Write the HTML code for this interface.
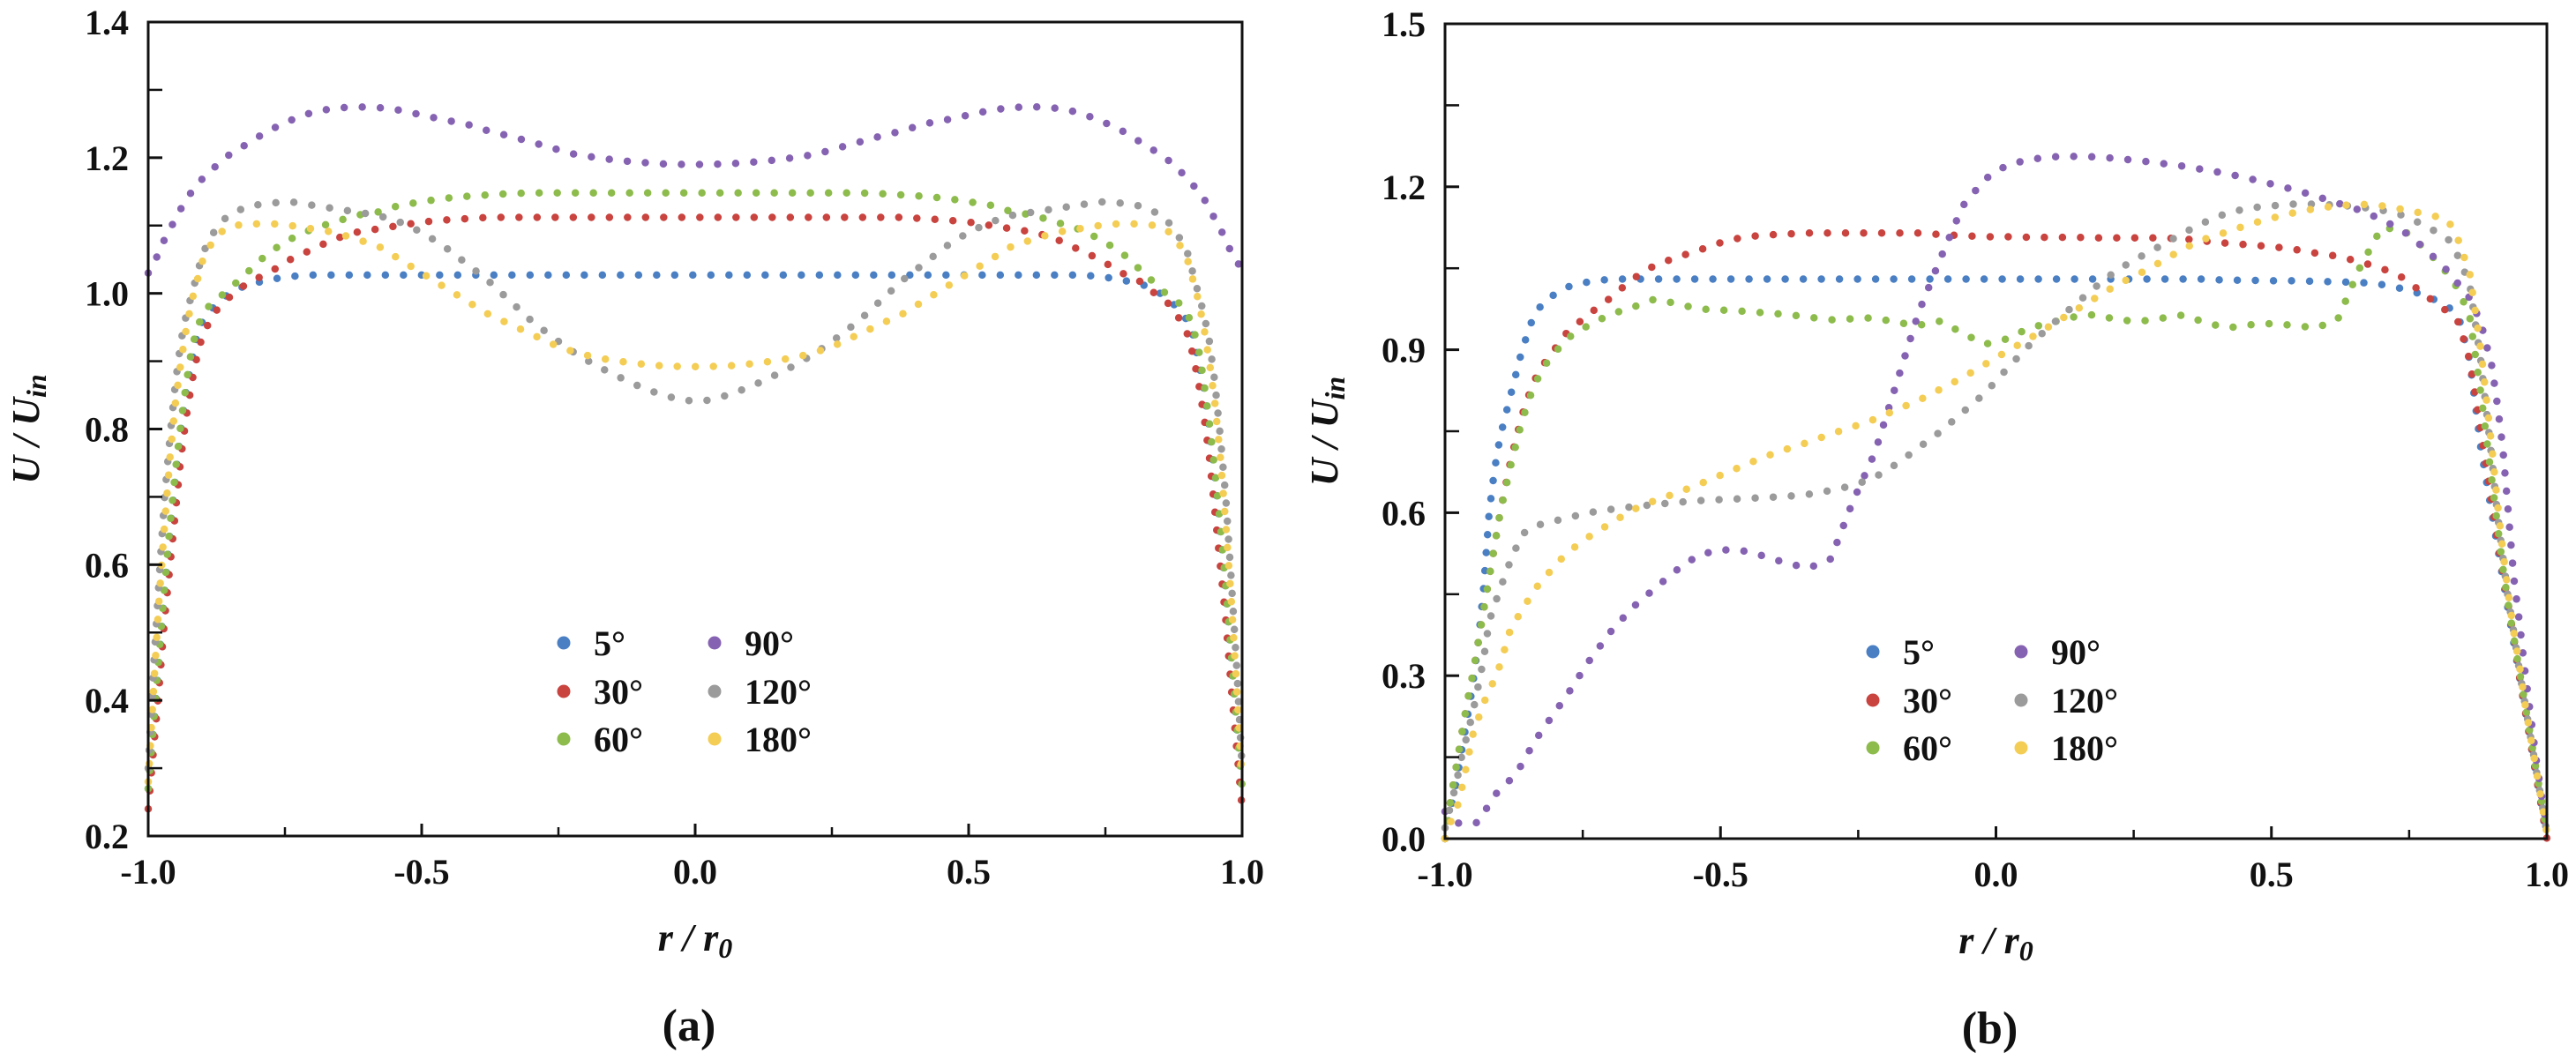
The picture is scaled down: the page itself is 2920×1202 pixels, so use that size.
<!DOCTYPE html>
<html><head><meta charset="utf-8"><style>
html,body{margin:0;padding:0;background:#fff;}
svg{display:block;}
text{font-family:"Liberation Serif","DejaVu Serif",serif;font-weight:bold;fill:#111;}
</style></head><body>
<svg id="fig" width="2920" height="1202" viewBox="0 0 2920 1202" xmlns="http://www.w3.org/2000/svg"></svg>
<script>
const seriesNames = ["5°","30°","60°","90°","120°","180°"];
const seriesColors = ["#4a7fc4","#c9433f","#8dbb4c","#8663b2","#9b9b9b","#f4cd55"];
const xGrid = [-1,-0.99,-0.98,-0.97,-0.96,-0.95,-0.94,-0.93,-0.92,-0.91,-0.9,-0.88,-0.86,-0.84,-0.82,-0.78,-0.74,-0.7,-0.66,-0.62,-0.58,-0.54,-0.5,-0.46,-0.42,-0.38,-0.34,-0.3,-0.26,-0.22,-0.18,-0.14,-0.1,-0.06,-0.02,0.02,0.06,0.1,0.14,0.18,0.22,0.26,0.3,0.34,0.38,0.42,0.46,0.5,0.54,0.58,0.62,0.66,0.7,0.74,0.78,0.82,0.84,0.86,0.88,0.9,0.91,0.92,0.93,0.94,0.95,0.96,0.97,0.98,0.99,1];

// Panel (a)
const a5 = [0.27,0.36,0.46,0.56,0.65,0.73,0.8,0.86,0.9,0.94,0.96,0.98,0.995,1.005,1.012,1.02,1.025,1.027,1.027,1.027,1.027,1.027,1.027,1.027,1.027,1.027,1.027,1.027,1.027,1.027,1.027,1.027,1.027,1.027,1.027,
 1.027,1.027,1.027,1.027,1.027,1.027,1.027,1.027,1.027,1.027,1.027,1.027,1.027,1.027,1.027,1.027,1.027,1.027,1.025,1.02,1.012,1.005,0.995,0.98,0.96,0.94,0.9,0.86,0.8,0.73,0.65,0.56,0.46,0.36,0.27];
const a30 = [0.24,0.33,0.42,0.52,0.6,0.68,0.76,0.82,0.87,0.91,0.94,0.97,0.99,1.0,1.015,1.03,1.05,1.065,1.08,1.09,1.095,1.1,1.105,1.108,1.11,1.112,1.112,1.112,1.112,1.112,1.112,1.112,1.112,1.112,1.112,
 1.112,1.112,1.112,1.112,1.112,1.112,1.112,1.112,1.112,1.112,1.11,1.108,1.105,1.1,1.095,1.09,1.08,1.065,1.05,1.03,1.015,1.0,0.99,0.97,0.94,0.91,0.87,0.82,0.76,0.68,0.6,0.52,0.42,0.33,0.24];
const a60 = [0.27,0.37,0.47,0.57,0.66,0.74,0.81,0.87,0.92,0.95,0.97,0.99,1.0,1.015,1.03,1.06,1.08,1.095,1.105,1.115,1.12,1.13,1.135,1.14,1.143,1.145,1.147,1.148,1.148,1.148,1.148,1.148,1.148,1.148,1.148,
 1.148,1.148,1.148,1.148,1.148,1.148,1.148,1.148,1.147,1.145,1.143,1.14,1.135,1.13,1.12,1.115,1.105,1.095,1.08,1.06,1.03,1.015,1.0,0.99,0.97,0.95,0.92,0.87,0.81,0.74,0.66,0.57,0.47,0.37,0.27];
const a90 = [1.03,1.045,1.06,1.08,1.095,1.11,1.125,1.14,1.15,1.16,1.17,1.185,1.2,1.21,1.22,1.24,1.255,1.267,1.273,1.275,1.274,1.27,1.263,1.256,1.25,1.24,1.232,1.223,1.214,1.205,1.2,1.196,1.193,1.191,1.19,
 1.19,1.191,1.193,1.196,1.2,1.205,1.214,1.223,1.232,1.24,1.25,1.256,1.263,1.27,1.274,1.275,1.273,1.267,1.255,1.24,1.22,1.21,1.2,1.185,1.17,1.16,1.15,1.14,1.125,1.11,1.095,1.08,1.06,1.045,1.04];
const a120 = [0.3,0.45,0.58,0.7,0.79,0.87,0.93,0.97,1.0,1.03,1.06,1.09,1.11,1.12,1.128,1.133,1.135,1.13,1.125,1.12,1.115,1.105,1.09,1.07,1.045,1.02,0.99,0.96,0.935,0.912,0.893,0.877,0.862,0.85,0.842,
 0.842,0.85,0.862,0.877,0.893,0.912,0.935,0.96,0.99,1.02,1.045,1.07,1.09,1.105,1.115,1.12,1.125,1.13,1.135,1.133,1.128,1.12,1.11,1.09,1.06,1.03,1.0,0.97,0.93,0.87,0.79,0.7,0.58,0.45,0.3];
const a180 = [0.28,0.42,0.55,0.66,0.76,0.84,0.9,0.95,0.99,1.02,1.05,1.08,1.095,1.1,1.102,1.103,1.1,1.095,1.09,1.08,1.07,1.05,1.03,1.01,0.99,0.97,0.955,0.94,0.925,0.913,0.905,0.9,0.896,0.893,0.892,
 0.892,0.893,0.896,0.9,0.905,0.913,0.925,0.94,0.955,0.97,0.99,1.01,1.03,1.05,1.07,1.08,1.09,1.095,1.1,1.103,1.102,1.1,1.095,1.08,1.05,1.02,0.99,0.95,0.9,0.84,0.76,0.66,0.55,0.42,0.28];

// Panel (b)
const b5 = [0,0.05,0.1,0.16,0.22,0.28,0.36,0.46,0.6,0.68,0.74,0.82,0.9,0.96,0.99,1.015,1.025,1.03,1.03,1.03,1.03,1.03,1.03,1.03,1.03,1.03,1.03,1.03,1.03,1.03,1.03,1.03,1.03,1.03,1.03,
 1.03,1.03,1.03,1.03,1.03,1.03,1.03,1.03,1.03,1.03,1.028,1.028,1.027,1.027,1.026,1.025,1.024,1.02,1.012,1.0,0.98,0.96,0.88,0.72,0.6,0.54,0.48,0.42,0.36,0.3,0.24,0.18,0.12,0.06,0];
const b30 = [0,0.07,0.13,0.19,0.25,0.3,0.36,0.42,0.48,0.54,0.6,0.7,0.78,0.84,0.875,0.93,0.965,0.995,1.03,1.055,1.07,1.083,1.097,1.107,1.111,1.113,1.115,1.115,1.115,1.115,1.115,1.115,1.112,1.11,1.108,
 1.108,1.107,1.107,1.107,1.106,1.106,1.106,1.106,1.104,1.1,1.096,1.093,1.09,1.085,1.078,1.072,1.062,1.05,1.032,1.0,0.97,0.95,0.88,0.75,0.62,0.55,0.49,0.43,0.37,0.3,0.24,0.18,0.12,0.06,0];
const b60 = [0,0.07,0.13,0.19,0.25,0.3,0.36,0.42,0.48,0.54,0.6,0.69,0.77,0.83,0.87,0.92,0.945,0.965,0.978,0.993,0.985,0.975,0.973,0.971,0.968,0.965,0.96,0.955,0.957,0.959,0.95,0.945,0.953,0.93,0.91,
 0.92,0.94,0.95,0.96,0.965,0.955,0.952,0.958,0.964,0.95,0.94,0.946,0.948,0.945,0.94,0.955,1.05,1.125,1.12,1.085,1.04,1.01,0.96,0.82,0.66,0.58,0.5,0.43,0.37,0.31,0.25,0.19,0.13,0.07,0.01];
const b90 = [0.05,0.04,0.03,0.027,0.027,0.028,0.03,0.045,0.065,0.08,0.09,0.11,0.137,0.175,0.205,0.262,0.325,0.38,0.425,0.46,0.494,0.522,0.532,0.53,0.52,0.507,0.498,0.515,0.62,0.71,0.84,0.97,1.07,1.165,1.214,
 1.24,1.25,1.255,1.256,1.255,1.252,1.248,1.243,1.238,1.231,1.224,1.215,1.205,1.195,1.183,1.17,1.157,1.14,1.118,1.085,1.045,1.02,0.995,0.95,0.87,0.8,0.72,0.6,0.48,0.4,0.31,0.23,0.15,0.08,0.02];
const b120 = [0.02,0.06,0.1,0.15,0.19,0.23,0.28,0.33,0.4,0.43,0.46,0.515,0.56,0.575,0.58,0.59,0.6,0.606,0.611,0.615,0.619,0.622,0.624,0.626,0.628,0.63,0.634,0.641,0.65,0.665,0.69,0.72,0.75,0.785,0.82,
 0.865,0.908,0.945,0.98,1.015,1.047,1.07,1.092,1.115,1.135,1.152,1.161,1.165,1.168,1.168,1.166,1.163,1.157,1.147,1.128,1.105,1.07,1.02,0.88,0.7,0.6,0.52,0.44,0.38,0.31,0.25,0.19,0.13,0.07,0.01];
const b180 = [0,0.03,0.05,0.09,0.14,0.19,0.22,0.25,0.27,0.295,0.32,0.39,0.42,0.455,0.48,0.525,0.555,0.58,0.605,0.622,0.636,0.652,0.669,0.686,0.703,0.717,0.73,0.745,0.758,0.772,0.79,0.807,0.828,0.849,0.873,
 0.897,0.92,0.945,0.97,0.995,1.02,1.04,1.062,1.086,1.104,1.117,1.131,1.142,1.152,1.16,1.165,1.168,1.165,1.158,1.15,1.14,1.1,1.04,0.9,0.72,0.62,0.53,0.45,0.38,0.32,0.25,0.19,0.13,0.07,0.01];

const xTicksMajor = [-1,-0.5,0,0.5,1];
const xTickLabels = ["-1.0","-0.5","0.0","0.5","1.0"];
const xTicksMinor = [-0.75,-0.25,0.25,0.75];
const aYTicks = [0.2,0.4,0.6,0.8,1.0,1.2,1.4];
const aYLabels = ["0.2","0.4","0.6","0.8","1.0","1.2","1.4"];
const aYMinor = [0.3,0.5,0.7,0.9,1.1,1.3];
const bYTicks = [0,0.3,0.6,0.9,1.2,1.5];
const bYLabels = ["0.0","0.3","0.6","0.9","1.2","1.5"];
const bYMinor = [0.15,0.45,0.75,1.05,1.35];

const NS = "http://www.w3.org/2000/svg";
const svg = document.getElementById("fig");
function mk(tag, attrs, parent){
  const e = document.createElementNS(NS, tag);
  for (const k in attrs) e.setAttribute(k, attrs[k]);
  (parent || svg).appendChild(e);
  return e;
}

function panel(p){
  const g = mk("g", {});
  
  
  const sx = v => p.x0 + (v - (-1)) / 2 * (p.x1 - p.x0);
  const sy = v => p.y1 - (v - p.ymin) / (p.ymax - p.ymin) * (p.y1 - p.y0);

  // data: dotted path through data points (evenly spaced dots along curve)
  p.series.forEach((vals, si) => {
    const d = vals.map((v, i) => (i ? "L" : "M") + sx(xGrid[i]).toFixed(1) + " " + sy(v).toFixed(1)).join(" ");
    const path = mk("path", {d: d, fill: "none", stroke: seriesColors[si], "stroke-width": 8.5, "stroke-linecap": "round", "stroke-linejoin": "round", "stroke-dasharray": "0 20.5"}, g);
    
    
  });

  // frame
  const fr = mk("rect", {x: p.x0, y: p.y0, width: p.x1 - p.x0, height: p.y1 - p.y0, fill: "none", stroke: "#111", "stroke-width": 3}, g);
  
  

  // x ticks
  xTicksMajor.forEach((v, i) => {
    const X = sx(v);
    const t = mk("line", {x1: X, x2: X, y1: p.y1, y2: p.y1 - 14, stroke: "#111", "stroke-width": 3}, g);
    
    
    const l = mk("text", {x: X, y: p.y1 + 54, "text-anchor": "middle", "font-size": 40}, g);
    l.textContent = xTickLabels[i];
    
    
  });
  xTicksMinor.forEach(v => {
    const X = sx(v);
    const t = mk("line", {x1: X, x2: X, y1: p.y1, y2: p.y1 - 10, stroke: "#111", "stroke-width": 2.5}, g);
    
    
  });
  // y ticks
  p.yTicks.forEach((v, i) => {
    const Y = sy(v);
    const t = mk("line", {x1: p.x0, x2: p.x0 + 16, y1: Y, y2: Y, stroke: "#111", "stroke-width": 3}, g);
    
    
    const l = mk("text", {x: p.x0 - 22, y: Y + 14, "text-anchor": "end", "font-size": 40}, g);
    l.textContent = p.yLabels[i];
    
    
  });
  p.yMinor.forEach(v => {
    const Y = sy(v);
    const t = mk("line", {x1: p.x0, x2: p.x0 + 16, y1: Y, y2: Y, stroke: "#111", "stroke-width": 2.5}, g);
    
    
  });

  // axis titles
  const xt = mk("text", {x: (p.x0 + p.x1) / 2, y: p.y1 + 130, "text-anchor": "middle", "font-size": 44, "font-style": "italic"}, g);
  xt.innerHTML = 'r / r<tspan font-size="32" dy="8">0</tspan>';
  
  
  const cy = (p.y0 + p.y1) / 2;
  const yt = mk("text", {x: p.ytx, y: cy, "text-anchor": "middle", "font-size": 44, "font-style": "italic", transform: "rotate(-90 " + p.ytx + " " + cy + ")"}, g);
  yt.innerHTML = 'U / U<tspan font-size="32" dy="8">in</tspan>';
  
  

  // panel label
  const pl = mk("text", {x: (p.x0 + p.x1) / 2 - 7, y: p.y1 + 232, "text-anchor": "middle", "font-size": 52}, g);
  pl.textContent = "(" + p.id + ")";
  
  

  // legend
  const lg = mk("g", {}, g);
  
  
  seriesNames.forEach((n, i) => {
    const col = Math.floor(i / 3), row = i % 3;
    const mx = p.legX[col], my = p.legY[row];
    const e = mk("g", {}, lg);
    
    
    mk("circle", {cx: mx, cy: my, r: 7.5, fill: seriesColors[i]}, e);
    const t = mk("text", {x: mx + 34, y: my + 14, "font-size": 40}, e);
    t.textContent = n;
  });
}

panel({id: "a", x0: 168, x1: 1408, y0: 25, y1: 948, ymin: 0.2, ymax: 1.4,
  yTicks: aYTicks, yLabels: aYLabels, yMinor: aYMinor, ytx: 44,
  series: [a5, a30, a60, a90, a120, a180],
  legX: [639, 810], legY: [729, 784, 838]});
panel({id: "b", x0: 1638, x1: 2887, y0: 27, y1: 951, ymin: 0, ymax: 1.5,
  yTicks: bYTicks, yLabels: bYLabels, yMinor: bYMinor, ytx: 1516,
  series: [b5, b30, b60, b90, b120, b180],
  legX: [2123, 2291], legY: [739, 794, 848]});
</script>
</body></html>
